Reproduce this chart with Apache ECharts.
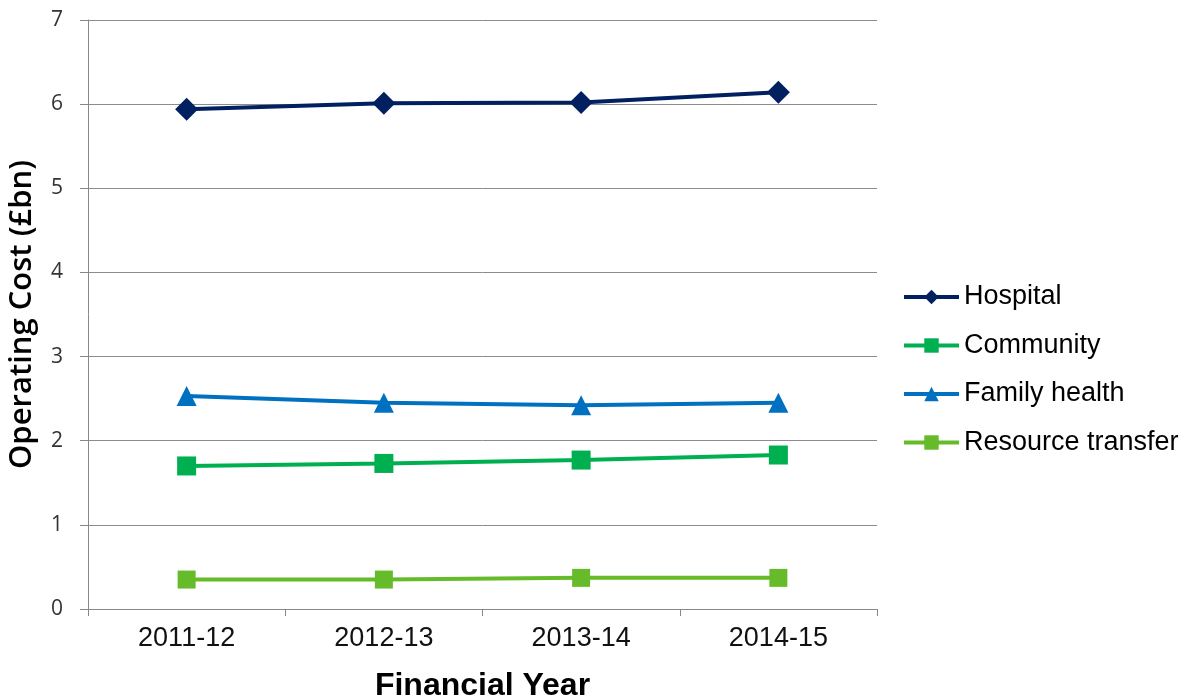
<!DOCTYPE html>
<html>
<head>
<meta charset="utf-8">
<script src="https://cdn.jsdelivr.net/npm/echarts@6/dist/echarts.min.js"></script>
<style>
html,body{margin:0;padding:0;background:#fff;}
#chart{width:1186px;height:696px;}
</style>
</head>
<body>
<div id="chart"></div>
<script>
const categories = ['2011-12', '2012-13', '2013-14', '2014-15'];
const hospital = [5.94, 6.01, 6.02, 6.14];
const community = [1.70, 1.73, 1.77, 1.83];
const familyHealth = [2.53, 2.45, 2.42, 2.45];
const resourceTransfer = [0.35, 0.35, 0.37, 0.37];
const yTicks = [0, 1, 2, 3, 4, 5, 6, 7];

const FONT = '"Liberation Sans", Arial, sans-serif';
const chart = echarts.init(document.getElementById('chart'));

function lineSeries(name, data, color, symbol, size) {
  return {
    name: name, type: 'line', data: data,
    symbol: symbol, symbolSize: size,
    lineStyle: { color: color, width: 4 },
    itemStyle: { color: color },
    emphasis: { disabled: true },
    animation: false
  };
}

chart.setOption({
  animation: false,
  grid: { left: 88, right: 309, top: 20, bottom: 87, outerBoundsMode: 'none', containLabel: false },
  xAxis: {
    type: 'category', data: categories, boundaryGap: true,
    name: 'Financial Year', nameLocation: 'middle', nameGap: 61,
    nameTextStyle: { fontFamily: FONT, fontSize: 32, fontWeight: 'bold', color: '#000' },
    axisLine: { lineStyle: { color: '#888', width: 1 } },
    axisTick: { show: true, length: 7, lineStyle: { color: '#888' } },
    axisLabel: { fontFamily: FONT, fontSize: 27, color: '#111', margin: 16 }
  },
  yAxis: {
    type: 'value', min: yTicks[0], max: yTicks[yTicks.length - 1], interval: 1,
    name: 'Operating Cost (£bn)', nameLocation: 'middle', nameGap: 50, nameRotate: 90,
    nameTextStyle: { fontFamily: '"Open Sans", sans-serif', fontSize: 31, fontWeight: 600, color: '#000' },
    axisLine: { show: true, lineStyle: { color: '#888', width: 1 } },
    axisTick: { show: true, length: 8, lineStyle: { color: '#888' } },
    splitLine: { lineStyle: { color: '#8c8c8c', width: 1 } },
    axisLabel: { fontFamily: '"Open Sans", sans-serif', fontSize: 21, color: '#333', margin: 25 }
  },
  legend: {
    orient: 'vertical', left: 902, top: 282, padding: 0,
    itemWidth: 55, itemHeight: 18, itemGap: 18.5,
    lineStyle: { width: 4 },
    textStyle: { fontFamily: FONT, fontSize: 27, color: '#000', lineHeight: 30 },
    data: ['Hospital', 'Community', 'Family health', 'Resource transfer']
  },
  series: [
    lineSeries('Hospital', hospital, '#002060', 'diamond', [23, 23]),
    lineSeries('Community', community, '#00B050', 'rect', 19),
    lineSeries('Family health', familyHealth, '#0070C0', 'triangle', 20),
    lineSeries('Resource transfer', resourceTransfer, '#66BB2A', 'rect', 18)
  ]
});
</script>
</body>
</html>
